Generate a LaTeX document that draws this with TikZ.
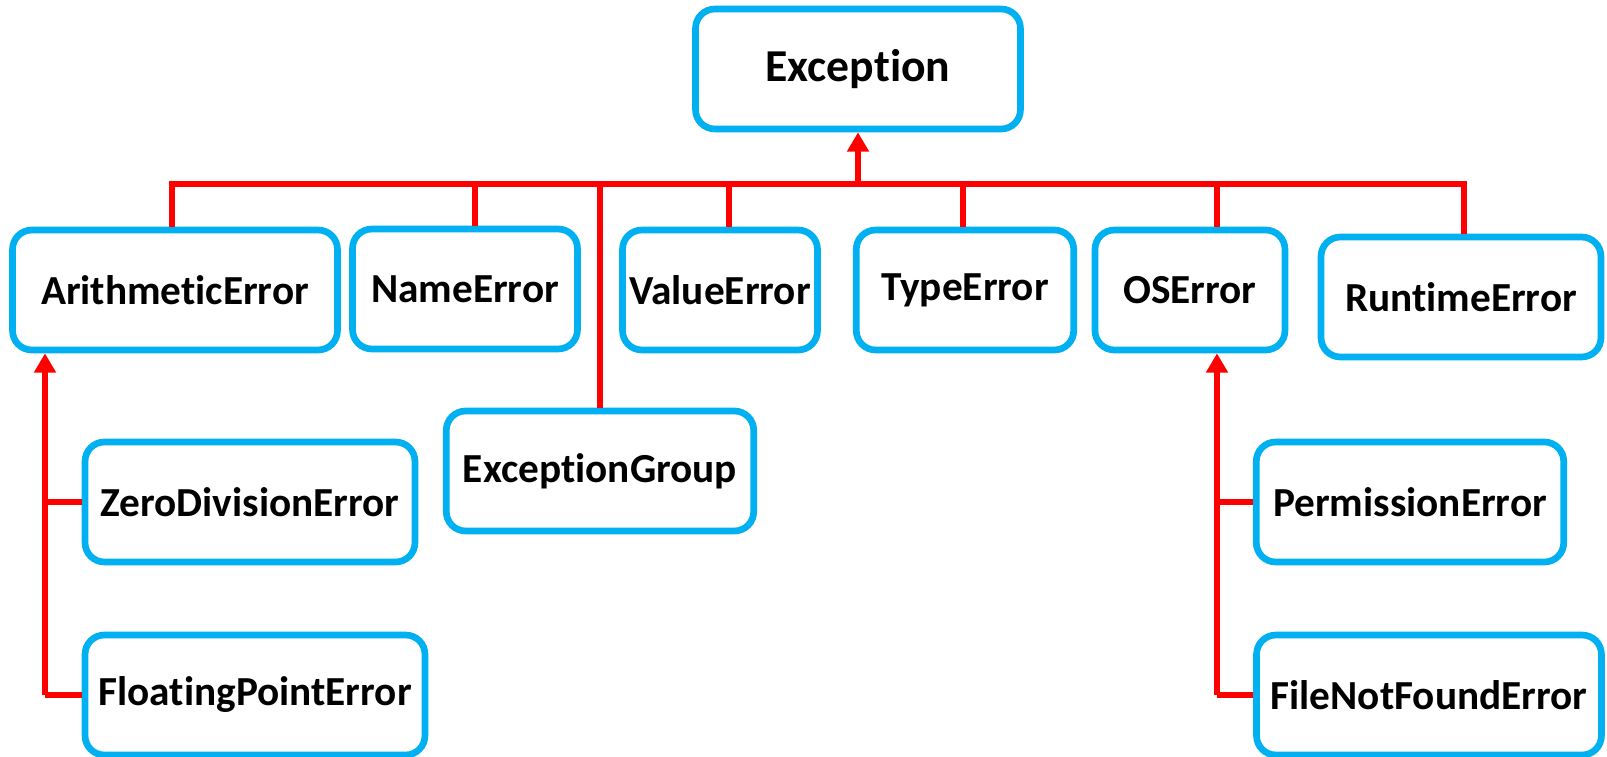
\documentclass[tikz,border=0pt]{standalone}
\usepackage{fontspec}
\setmainfont[Ligatures=NoCommon]{Carlito}
\usetikzlibrary{arrows.meta}

\definecolor{boxblue}{RGB}{0,176,240}
\definecolor{linkred}{RGB}{255,0,0}

\begin{document}
\begin{tikzpicture}[
      x=0.02cm, y=-0.02cm,
      cls/.style={rectangle, draw=boxblue, line width=3.8pt, rounded corners=11pt, fill=white,
        align=center, inner sep=0pt, font=\fontsize{23.5}{27}\selectfont\bfseries,
        minimum height=2.4cm},
      root/.style={cls, font=\fontsize{26}{30}\selectfont\bfseries},
      link/.style={draw=linkred, line width=3.6pt},
      arrow/.style={link, -{Triangle[length=11pt,width=12pt]}}
    ]
    \useasboundingbox (0,0) rectangle (1607,757);

    % top
    \node[root, minimum width=6.5cm] (exc) at (858,69) {Exception};

    % first row
    \node[cls, minimum width=6.5cm] (arith) at (175,290) {ArithmeticError};
    \node[cls, minimum width=4.5cm] (name) at (465,289) {NameError};
    \node[cls, minimum width=3.9cm] (value) at (720,290) {ValueError};
    \node[cls, minimum width=4.35cm] (type) at (965,290) {TypeError};
    \node[cls, minimum width=3.8cm] (os) at (1190,290) {OSError};
    \node[cls, minimum width=5.6cm] (runtime) at (1461,297) {RuntimeError};
    \node[cls, minimum width=6.15cm] (group) at (600,471) {ExceptionGroup};

    % subclasses
    \node[cls, minimum width=6.6cm] (zero) at (250,502) {ZeroDivisionError};
    \node[cls, minimum width=6.8cm] (float) at (255,695) {FloatingPointError};
    \node[cls, minimum width=6.15cm] (perm) at (1410,502) {PermissionError};
    \node[cls, minimum width=6.9cm] (file) at (1429,695) {FileNotFoundError};

    % bus to Exception
    \draw[link] (172,0 |- arith.north) |- (1464,184) -- (1464,0 |- runtime.north);
    \foreach \n/\x in {name/475, group/600, value/729, type/963, os/1217}
      \draw[link] (\x,184) -- (\x,0 |- \n.north);
    \draw[arrow] (exc.south |- 0,184) -- (exc.south);

    % ArithmeticError branch
    \coordinate (lrail) at (45,695);
    \draw[arrow] (lrail) -- (lrail |- arith.south);
    \draw[link] (zero.west) -- (zero.west -| lrail);
    \draw[link] (float.west) -- (lrail);

    % OSError branch
    \coordinate (rrail) at (1217,695);
    \draw[arrow] (rrail) -- (rrail |- os.south);
    \draw[link] (perm.west) -- (perm.west -| rrail);
    \draw[link] (file.west) -- (rrail);
  \end{tikzpicture}
\end{document}
